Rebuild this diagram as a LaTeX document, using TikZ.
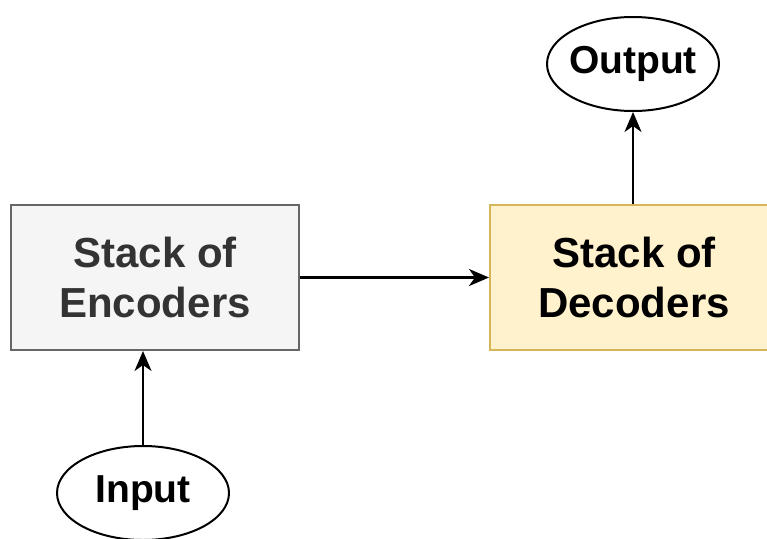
\documentclass[tikz,border=0pt]{standalone}
\usepackage{fontspec}
\setmainfont{Liberation Sans}
\usetikzlibrary{shapes.geometric,arrows.meta}
\definecolor{encfill}{HTML}{F5F5F5}
\definecolor{encdraw}{HTML}{666666}
\definecolor{enctext}{HTML}{333333}
\definecolor{decfill}{HTML}{FFF2CC}
\definecolor{decdraw}{HTML}{D6B656}
\tikzset{
  boxnode/.style={rectangle, line width=2pt, minimum width=288pt, minimum height=145pt,
    align=center, font=\fontsize{42}{50}\selectfont\bfseries, inner sep=0pt},
  ellnode/.style={ellipse, draw=black, line width=2pt, minimum width=172pt, minimum height=94pt,
    font=\fontsize{39}{44}\selectfont\bfseries, inner sep=-10pt},
  conn/.style={line width=2.5pt, -{Stealth[length=20pt,width=17pt,inset=6pt]}}
}
\begin{document}
\begin{tikzpicture}[x=1pt,y=-1pt]
\useasboundingbox (0,0) rectangle (767,538);
\node[boxnode, fill=encfill, draw=encdraw, text=enctext] (enc) at (155,277.5) {Stack of\\Encoders};
\node[boxnode, fill=decfill, draw=decdraw, text=black] (dec) at (634,277.5) {Stack of\\Decoders};
\node[ellnode] (in) at (143,493) {Input};
\node[ellnode] (out) at (633,64) {Output};
\draw[conn] (enc.east) -- (dec.west);
\draw[conn] (in.north) -- (enc.south -| in.north);
\draw[conn] (dec.north -| out.south) -- (out.south);
\end{tikzpicture}
\end{document}
